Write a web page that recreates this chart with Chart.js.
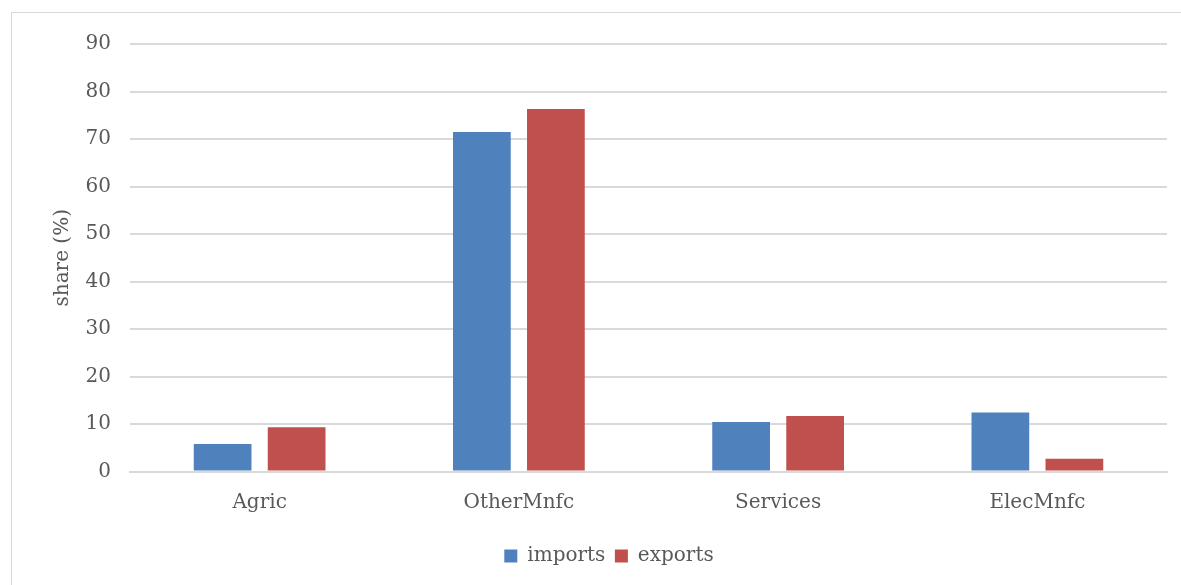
<!DOCTYPE html>
<html>
<head>
<meta charset="utf-8">
<script src="https://cdn.jsdelivr.net/npm/chart.js@4"></script>
<style>
  body { margin: 0; background: #fff; overflow: hidden; }
  #box { position: absolute; left: 11px; top: 12px; width: 1180px; height: 600px; border: 1px solid #d9d9d9; }
  canvas { display: block; }
</style>
</head>
<body>
<div id="box"><canvas id="myChart" width="1176" height="572"></canvas></div>
<script>
const categories = ['Agric', 'OtherMnfc', 'Services', 'ElecMnfc'];
const imports = [5.8, 71.5, 10.4, 12.4];
const exports = [9.3, 76.3, 11.7, 2.7];

const ctx = document.getElementById('myChart').getContext('2d');
const textColor = '#595959';
const font = { family: "'DejaVu Serif', 'Liberation Serif', serif", size: 20 };

const myChart = new Chart(ctx, {
    type: 'bar',
    data: {
        labels: categories,
        datasets: [{
            label: 'imports',
            data: imports,
            backgroundColor: '#4f81bd',
            categoryPercentage: 0.571,
            barPercentage: 0.78
        }, {
            label: 'exports',
            data: exports,
            backgroundColor: '#c0504d',
            categoryPercentage: 0.571,
            barPercentage: 0.78
        }]
    },
    options: {
        responsive: false,
        animation: false,
        layout: { padding: { left: 39, right: 21, top: 13, bottom: 9 } },
        plugins: {
            legend: {
                position: 'bottom',
                labels: { boxWidth: 13, boxHeight: 13, color: textColor, font: font, padding: 9.5 }
            },
            tooltip: { enabled: false }
        },
        scales: {
            x: {
                grid: { display: false, drawTicks: false },
                border: { color: '#d9d9d9', width: 2 },
                ticks: { color: textColor, font: font, padding: 19 },
                afterFit: function (scale) { scale.height += 3; }
            },
            y: {
                min: 0,
                max: 90,
                ticks: { stepSize: 10, color: textColor, font: font, padding: 19 },
                grid: { color: '#d9d9d9', lineWidth: 2, drawTicks: false },
                border: { display: false },
                title: { display: true, text: 'share (%)', color: textColor, font: font, padding: 0 },
                afterFit: function (scale) { scale.width = 79; }
            }
        }
    }
});
</script>
</body>
</html>
